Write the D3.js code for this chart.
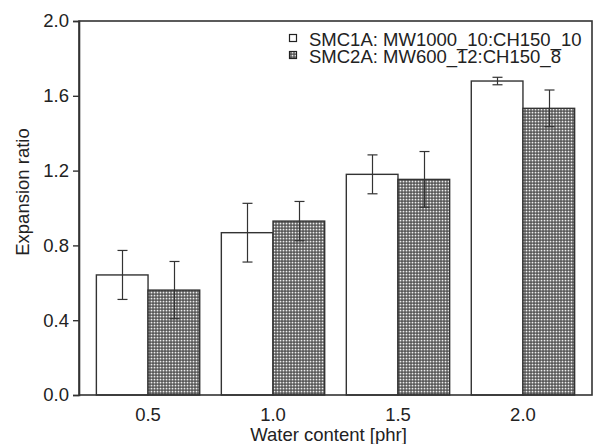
<!DOCTYPE html>
<html>
<head>
<meta charset="utf-8">
<script src="https://cdn.jsdelivr.net/npm/d3@7"></script>
<style>
  html, body { margin: 0; padding: 0; background: #fff; }
  svg { display: block; }
  text { font-family: "Liberation Sans", Arial, sans-serif; fill: #222; }
</style>
</head>
<body>
<svg id="chart" width="593" height="444"></svg>
<script>
// ---- data ----
const categories = ["0.5", "1.0", "1.5", "2.0"];
const seriesNames = ["SMC1A: MW1000_10:CH150_10", "SMC2A: MW600_12:CH150_8"];
const smc1aValues = [0.642, 0.868, 1.180, 1.679];
const smc1aErrors = [0.131, 0.157, 0.104, 0.020];
const smc2aValues = [0.561, 0.930, 1.153, 1.533];
const smc2aErrors = [0.153, 0.105, 0.149, 0.098];
const yTicks = [0.0, 0.4, 0.8, 1.2, 1.6, 2.0];
const xTitle = "Water content [phr]";
const yTitle = "Expansion ratio";

// ---- layout ----
const svg = d3.select("#chart");
const mLeft = 79, mRight = 592, mTop = 21, mBottom = 395;
const FS = 18.5;

const defs = svg.append("defs");
const pat = defs.append("pattern")
  .attr("id", "dots").attr("patternUnits", "userSpaceOnUse")
  .attr("width", 3).attr("height", 3);
const patCells = [
  ["#5a5a5a", "#7a7a7a", "#5a5a5a"],
  ["#8a8a8a", "#eeeeee", "#8a8a8a"],
  ["#6a6a6a", "#9a9a9a", "#6a6a6a"]
];
patCells.forEach((row, r) => row.forEach((col, c) => {
  pat.append("rect").attr("x", c).attr("y", r).attr("width", 1).attr("height", 1).attr("fill", col);
}));

const x = d3.scaleBand().domain(categories).range([mLeft, mRight])
  .paddingInner(0.173).paddingOuter(0.139);
const xs = d3.scaleBand().domain([0, 1]).range([0, x.bandwidth()]).padding(0);
const y = d3.scaleLinear().domain([0, 2.0]).range([mBottom, mTop]);

const series = [
  { values: smc1aValues, errors: smc1aErrors, fill: "#ffffff" },
  { values: smc2aValues, errors: smc2aErrors, fill: "url(#dots)" }
];

// bars
series.forEach((s, si) => {
  const g = svg.append("g");
  g.selectAll("rect").data(categories).enter().append("rect")
    .attr("x", c => x(c) + xs(si))
    .attr("y", (c, i) => y(s.values[i]))
    .attr("width", xs.bandwidth())
    .attr("height", (c, i) => y(0) - y(s.values[i]))
    .attr("fill", s.fill)
    .attr("stroke", "#333").attr("stroke-width", 1.4);
});

// error bars
series.forEach((s, si) => {
  const g = svg.append("g").attr("stroke", "#333").attr("stroke-width", 1.2);
  categories.forEach((c, i) => {
    const cx = Math.round(x(c) + xs(si) + xs.bandwidth() / 2) + 0.5;
    const hi = y(s.values[i] + s.errors[i]);
    const lo = y(s.values[i] - s.errors[i]);
    g.append("line").attr("x1", cx).attr("x2", cx).attr("y1", hi).attr("y2", lo);
    g.append("line").attr("x1", cx - 5).attr("x2", cx + 5).attr("y1", hi).attr("y2", hi);
    g.append("line").attr("x1", cx - 5).attr("x2", cx + 5).attr("y1", lo).attr("y2", lo);
  });
});

// frame
svg.append("rect").attr("x", mLeft).attr("y", mTop)
  .attr("width", mRight - mLeft).attr("height", mBottom - mTop)
  .attr("fill", "none").attr("stroke", "#333").attr("stroke-width", 1.6);

// y axis
const yAxis = d3.axisLeft(y).tickValues(yTicks).tickFormat(d3.format(".1f"))
  .tickSize(6).tickPadding(4);
const yg = svg.append("g").attr("transform", `translate(${mLeft},0)`).call(yAxis);
yg.select(".domain").attr("stroke", "#333").attr("stroke-width", 1.6);
yg.selectAll(".tick line").attr("stroke", "#333").attr("stroke-width", 1.4);
yg.selectAll(".tick text").attr("font-size", FS).attr("fill", "#222")
  .style("font-family", "'Liberation Sans', Arial, sans-serif");

// x axis (labels only)
const xAxis = d3.axisBottom(x).tickSize(0).tickPadding(13);
const xg = svg.append("g").attr("transform", `translate(0,${mBottom})`).call(xAxis);
xg.select(".domain").remove();
xg.selectAll(".tick text").attr("font-size", FS).attr("fill", "#222")
  .style("font-family", "'Liberation Sans', Arial, sans-serif");

// titles
svg.append("text").attr("x", (mLeft + mRight) / 2 - 7).attr("y", 441)
  .attr("text-anchor", "middle").attr("font-size", FS).text(xTitle);
svg.append("text").attr("transform", `translate(29,${192}) rotate(-90)`)
  .attr("text-anchor", "middle").attr("font-size", FS).text(yTitle);

// legend
const legend = svg.append("g");
seriesNames.forEach((name, i) => {
  const ly = 46 + i * 17;
  legend.append("rect").attr("x", 289.5).attr("y", ly - 11.5).attr("width", 7).attr("height", 7)
    .attr("fill", series[i].fill).attr("stroke", "#222").attr("stroke-width", 1.2);
  legend.append("text").attr("x", 309).attr("y", ly).attr("font-size", FS).text(name);
});
</script>
</body>
</html>
